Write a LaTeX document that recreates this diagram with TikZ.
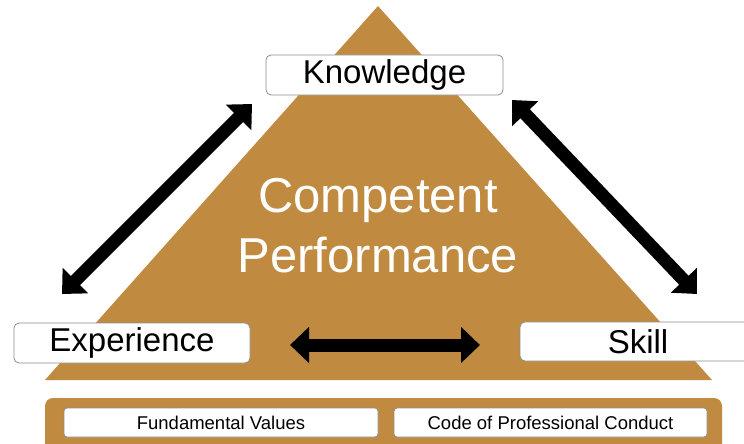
\documentclass[tikz,border=0pt]{standalone}
\usepackage{fontspec}
\setmainfont{Liberation Sans}
\usetikzlibrary{arrows.meta}
\definecolor{gold}{RGB}{192,139,64}
\tikzset{
  labelbox/.style={draw=gray!90,line width=0.8pt,fill=white,rounded corners=5pt,inner sep=0pt},
  valuebox/.style={draw=gray!90,line width=0.8pt,fill=white,rounded corners=3pt,inner sep=0pt,minimum height=29pt,font=\fontsize{18.5}{21}\selectfont},
  bigarrow/.style={line width=13pt,{Triangle[length=19pt,width=35pt]}-{Triangle[length=19pt,width=35pt]}}
}
\begin{document}
\begin{tikzpicture}[x=1pt,y=-1pt]
    \useasboundingbox (0,0) rectangle (744,444);
    % pyramid and base
    \fill[gold] (378,6) -- (712,380) -- (45,380) -- cycle;
    \fill[gold,rounded corners=8pt] (45,398) rectangle (722,460);
    \node (title) [text=white,align=center,font=\fontsize{49}{60}\selectfont] at (378,226) {Competent\\Performance};
    % corners
    \node (kn) [labelbox,minimum width=237pt,minimum height=40pt,font=\fontsize{33}{36}\selectfont] at (384.5,75) {Knowledge};
    \node (ex) [labelbox,minimum width=236pt,minimum height=40pt,font=\fontsize{33}{36}\selectfont] at (132,343) {Experience};
    \node (sk) [labelbox,minimum width=236pt,minimum height=39pt,font=\fontsize{33}{36}\selectfont] at (638,341.5) {Skill};
    % values
    \node (fv) [valuebox,minimum width=314pt] at (221,422.5) {Fundamental Values};
    \node (cp) [valuebox,minimum width=313pt] at (550.5,422.5) {Code of Professional Conduct};
    % arrows
    \coordinate (kl) at (252,104);
    \coordinate (el) at (62,294);
    \coordinate (kr) at (512,100);
    \coordinate (sr) at (697,294);
    \coordinate (eh) at (290,345);
    \coordinate (sh) at (480,345);
    \draw[bigarrow] (el) -- (kl);
    \draw[bigarrow] (kr) -- (sr);
    \draw[bigarrow] (eh) -- (sh);
\end{tikzpicture}
\end{document}
